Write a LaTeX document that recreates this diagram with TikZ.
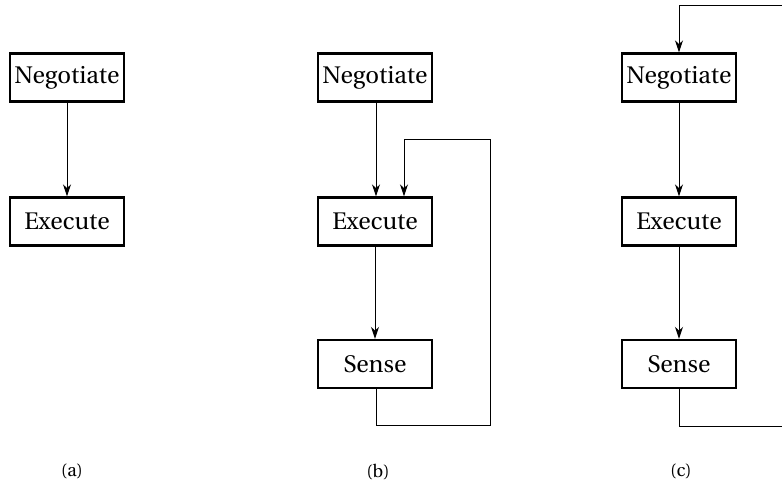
\documentclass[tikz,border=0pt]{standalone}
\usepackage[T1]{fontenc}
\renewcommand{\rmdefault}{put}
\usetikzlibrary{arrows.meta}
\begin{document}
\begin{tikzpicture}[x=0.5pt,y=-0.5pt,
  box/.style={draw,line width=1.2pt,minimum width=57pt,minimum height=24pt,inner sep=0pt,font=\rmfamily\fontsize{12}{14}\selectfont},
  conn/.style={line width=0.5pt},
  arr/.style={conn,-{Stealth[length=6pt,width=4pt]}},
  captext/.style={font=\rmfamily\fontsize{9}{11}\selectfont}]
\clip (0,0) rectangle (782,484);
% (a)
\node[box] (na) at (67,77.5) {Negotiate};
\node[box] (ea) at (67,221.5) {Execute};
\draw[arr] (na) -- (ea);
\node[captext] (la) at (72,472) {(a)};
% (b)
\node[box] (nb) at (375,77.5) {Negotiate};
\node[box] (eb) at (375,221.5) {Execute};
\node[box] (sb) at (375,364) {Sense};
\draw[arr] (nb.south -| 376,0) -- (eb.north -| 376,0);
\draw[arr] (eb) -- (sb);
\coordinate (b1) at (376,425);
\coordinate (b2) at (490,425);
\coordinate (b3) at (490,139);
\coordinate (b4) at (404,139);
\draw[arr] (sb.south -| b1) -- (b1) -- (b2) -- (b3) -- (b4) -- (eb.north -| b4);
\node[captext] (lb) at (378,472) {(b)};
% (c)
\node[box] (nc) at (679,77.5) {Negotiate};
\node[box] (ec) at (679,221.5) {Execute};
\node[box] (sc) at (679,364) {Sense};
\draw[arr] (nc) -- (ec);
\draw[arr] (ec) -- (sc);
\coordinate (c1) at (679,426);
\coordinate (c2) at (800,426);
\coordinate (c3) at (800,5);
\coordinate (c4) at (679,5);
\draw[arr] (sc.south) -- (c1) -- (c2) -- (c3) -- (c4) -- (nc.north);
\node[captext] (lc) at (681,472) {(c)};
\end{tikzpicture}
\end{document}
